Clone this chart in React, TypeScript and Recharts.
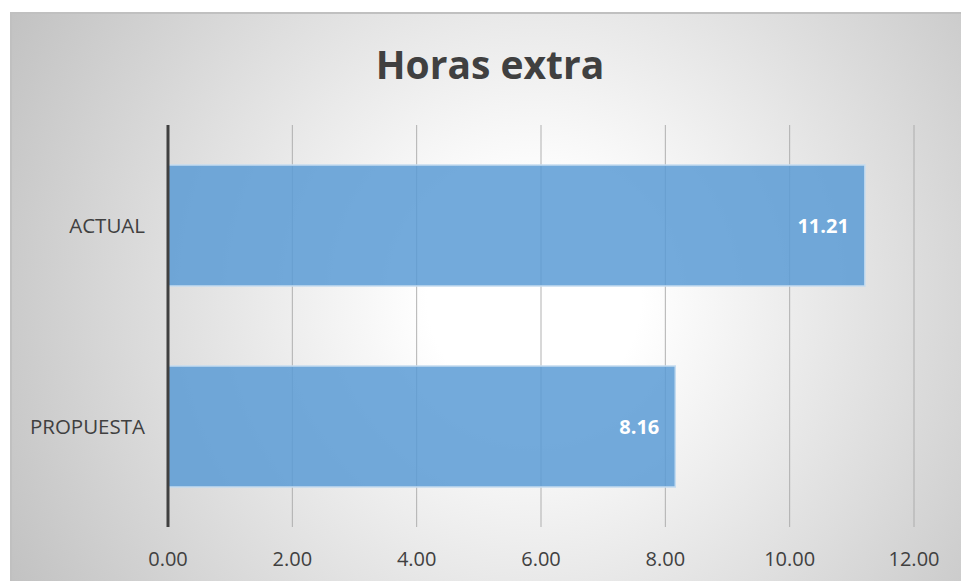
import React from "react";
import { BarChart, Bar, XAxis, YAxis, CartesianGrid, LabelList } from "recharts";

const categories = ["ACTUAL", "PROPUESTA"];
const hours = [11.21, 8.16];
const xTicks = [0, 2, 4, 6, 8, 10, 12];

const data = categories.map((name, i) => ({ name, value: hours[i] }));

const FONT = "'Open Sans', 'Noto Sans', sans-serif";
const TEXT = "#404040";

export default function App() {
  return (
    <div
      style={{
        position: "absolute",
        left: 0,
        top: 0,
        width: 961,
        height: 581,
        background: "#ffffff",
        overflow: "hidden",
        fontFamily: FONT,
      }}
    >
      <div
        style={{
          position: "absolute",
          left: 10,
          top: 12,
          width: 951,
          height: 569,
          borderTop: "2px solid #c0c0c0",
          borderLeft: "2px solid #c0c0c0",
          boxSizing: "border-box",
          background:
            "radial-gradient(circle farthest-corner at 55% 50%, #ffffff 0%, #ffffff 18%, #c2c2c2 100%)",
        }}
      />
      <div
        style={{
          position: "absolute",
          left: 0,
          top: 37,
          width: 980,
          textAlign: "center",
          fontSize: 39,
          fontWeight: 700,
          color: TEXT,
          lineHeight: "54px",
        }}
      >
        Horas extra
      </div>
      <div style={{ position: "absolute", left: 0, top: 0 }}>
        <BarChart
          width={961}
          height={581}
          layout="vertical"
          data={data}
          margin={{ top: 125, right: 47, left: 0, bottom: 0 }}
          barSize={121}
        >
          <CartesianGrid horizontal={false} stroke="#a8a8a8" strokeOpacity={0.9} />
          <XAxis
            type="number"
            domain={[0, 12]}
            ticks={xTicks}
            tickFormatter={(v: number) => v.toFixed(2)}
            axisLine={false}
            tickLine={false}
            tickMargin={19}
            height={54}
            tick={{ fontSize: 20, fill: TEXT, fontFamily: FONT }}
          />
          <YAxis
            type="category"
            dataKey="name"
            width={168}
            axisLine={{ stroke: "#404040", strokeWidth: 3 }}
            tickLine={false}
            tickMargin={17}
            tick={{ fontSize: 20.5, fill: TEXT, fontFamily: FONT }}
          />
          <Bar
            dataKey="value"
            fill="#5b9bd5"
            fillOpacity={0.85}
            stroke="#c5dcf0"
            strokeWidth={1.5}
            isAnimationActive={false}
          >
            <LabelList
              dataKey="value"
              position="insideRight"
              offset={16}
              formatter={(v: number) => v.toFixed(2)}
              fill="#ffffff"
              fontSize={20}
              fontWeight={700}
              fontFamily={FONT}
            />
          </Bar>
        </BarChart>
      </div>
    </div>
  );
}
